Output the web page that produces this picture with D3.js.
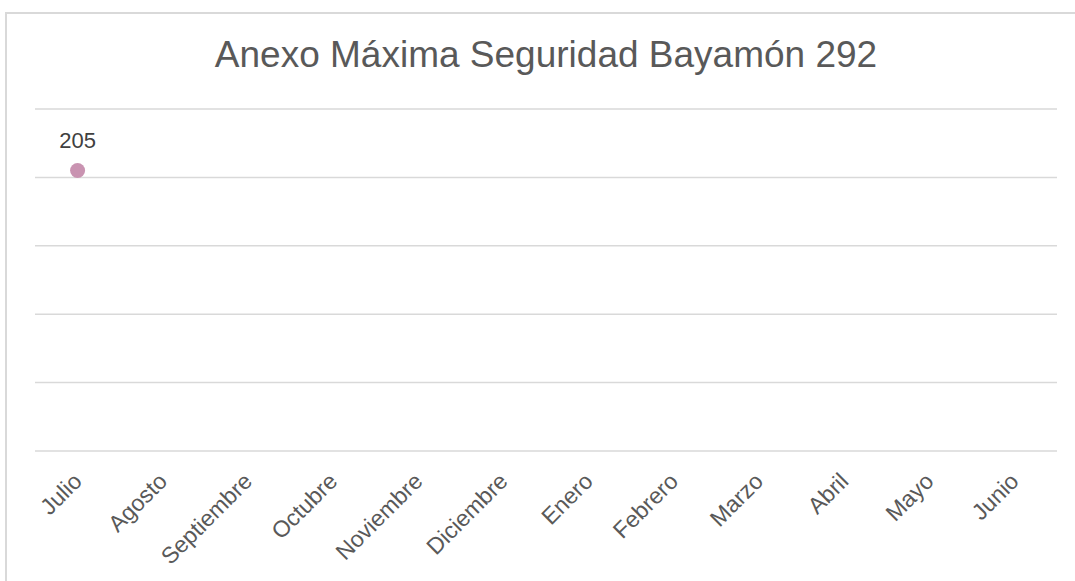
<!DOCTYPE html>
<html>
<head>
<meta charset="utf-8">
<script src="https://cdn.jsdelivr.net/npm/d3@7"></script>
<style>
  body { margin: 0; background: #fff; }
  svg { display: block; font-family: "Liberation Sans", Arial, sans-serif; }
</style>
</head>
<body>
<div id="chart"></div>
<script>
var titleText = "Anexo Máxima Seguridad Bayamón 292";
var months = ["Julio", "Agosto", "Septiembre", "Octubre", "Noviembre", "Diciembre",
              "Enero", "Febrero", "Marzo", "Abril", "Mayo", "Junio"];
var values = [205, null, null, null, null, null, null, null, null, null, null, null];
var yTicks = [0, 50, 100, 150, 200, 250];

var width = 1075, height = 581;
var margin = {top: 109, right: 18, bottom: 130, left: 35};

var svg = d3.select("#chart").append("svg")
    .attr("width", width)
    .attr("height", height);

// chart frame (runs off the right and bottom edges)
svg.append("rect")
    .attr("x", 6).attr("y", 13)
    .attr("width", 1100).attr("height", 600)
    .style("fill", "#fff")
    .style("stroke", "#d9d9d9")
    .style("stroke-width", 2);

var x = d3.scaleBand()
    .domain(months)
    .range([margin.left, width - margin.right]);

var y = d3.scaleLinear()
    .domain([0, 250])
    .range([height - margin.bottom, margin.top]);

// gridlines
svg.append("g").selectAll("line")
    .data(yTicks)
    .enter().append("line")
    .attr("x1", x.range()[0])
    .attr("x2", x.range()[1])
    .attr("y1", function(d){ return y(d); })
    .attr("y2", function(d){ return y(d); })
    .style("stroke", "#d9d9d9")
    .style("stroke-width", 1.5);

// title
svg.append("text")
    .attr("x", 546)
    .attr("y", 67)
    .attr("text-anchor", "middle")
    .style("font-size", "37px")
    .style("fill", "#595959")
    .text(titleText);

// category labels, rotated
svg.append("g").selectAll("text")
    .data(months)
    .enter().append("text")
    .attr("text-anchor", "end")
    .attr("dy", "0.35em")
    .attr("transform", function(d){
        var cx = x(d) + x.bandwidth() / 2;
        return "translate(" + cx + ",477) rotate(-45)";
    })
    .style("font-size", "23px")
    .style("fill", "#595959")
    .text(function(d){ return d; });

var pts = months.map(function(m, i){ return {month: m, value: values[i]}; })
    .filter(function(d){ return d.value != null; });

svg.append("g").selectAll("circle")
    .data(pts)
    .enter().append("circle")
    .attr("cx", function(d){ return x(d.month) + x.bandwidth() / 2; })
    .attr("cy", function(d){ return y(d.value); })
    .attr("r", 7.5)
    .style("fill", "#c993b1");

svg.append("g").selectAll("text")
    .data(pts)
    .enter().append("text")
    .attr("x", function(d){ return x(d.month) + x.bandwidth() / 2; })
    .attr("y", function(d){ return y(d.value) - 23; })
    .attr("text-anchor", "middle")
    .style("font-size", "22px")
    .style("fill", "#404040")
    .text(function(d){ return d.value; });
</script>
</body>
</html>
